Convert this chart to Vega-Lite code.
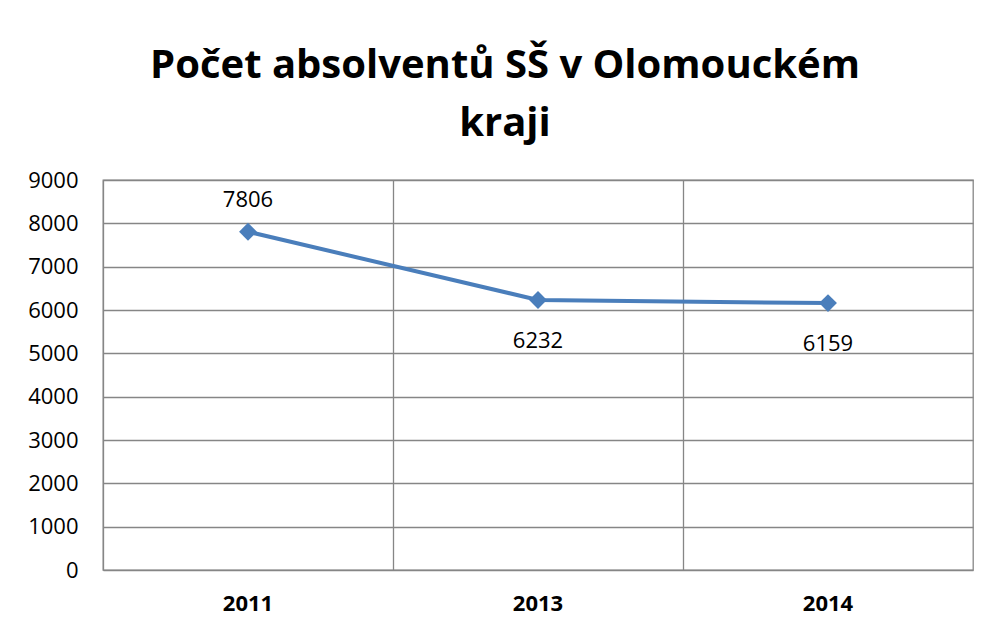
{
  "$schema": "https://vega.github.io/schema/vega-lite/v6.json",
  "width": 870,
  "height": 390,
  "autosize": {"type": "none"},
  "padding": {"left": 103, "top": 180, "right": 21, "bottom": 62},
  "background": "white",
  "title": {
    "text": ["Počet absolventů SŠ v Olomouckém", "kraji"],
    "font": "Open Sans",
    "fontSize": 40,
    "fontWeight": "bold",
    "color": "black",
    "anchor": "middle",
    "frame": "group",
    "dx": -33,
    "lineHeight": 58,
    "baseline": "alphabetic",
    "offset": -7
  },
  "data": {
    "values": [
      {"year": "2011", "count": 7806},
      {"year": "2013", "count": 6232},
      {"year": "2014", "count": 6159}
    ]
  },
  "encoding": {
    "x": {
      "field": "year",
      "type": "ordinal",
      "scale": {"type": "band", "paddingInner": 0, "paddingOuter": 0},
      "axis": {
        "title": null,
        "labelAngle": 0,
        "bandPosition": 0,
        "grid": true,
        "ticks": false,
        "domain": false,
        "labelFont": "Open Sans",
        "labelFontSize": 22,
        "labelFontWeight": "bold",
        "labelColor": "black",
        "labelPadding": 23,
        "gridColor": "#868686",
        "gridWidth": 1.3,
        "gridOpacity": 1
      }
    },
    "y": {
      "field": "count",
      "type": "quantitative",
      "scale": {"domain": [0, 9000], "nice": false},
      "axis": {
        "title": null,
        "values": [0, 1000, 2000, 3000, 4000, 5000, 6000, 7000, 8000, 9000],
        "format": "d",
        "grid": true,
        "ticks": false,
        "domain": false,
        "labelFont": "Open Sans",
        "labelFontSize": 22,
        "labelColor": "black",
        "labelPadding": 25,
        "gridColor": "#868686",
        "gridWidth": 1.3,
        "gridOpacity": 1
      }
    }
  },
  "layer": [
    {"mark": {"type": "line", "color": "#4A7EBB", "strokeWidth": 4}},
    {"mark": {"type": "point", "shape": "diamond", "filled": true, "size": 320, "color": "#4A7EBB", "opacity": 1}},
    {
      "transform": [{"filter": "datum.year == '2011'"}],
      "mark": {"type": "text", "dy": -25, "baseline": "alphabetic", "font": "Open Sans", "fontSize": 22, "color": "black"},
      "encoding": {"text": {"field": "count", "type": "quantitative", "format": "d"}}
    },
    {
      "transform": [{"filter": "datum.year != '2011'"}],
      "mark": {"type": "text", "dy": 48, "baseline": "alphabetic", "font": "Open Sans", "fontSize": 22, "color": "black"},
      "encoding": {"text": {"field": "count", "type": "quantitative", "format": "d"}}
    }
  ],
  "config": {"view": {"stroke": "#868686", "strokeWidth": 1.3}}
}
